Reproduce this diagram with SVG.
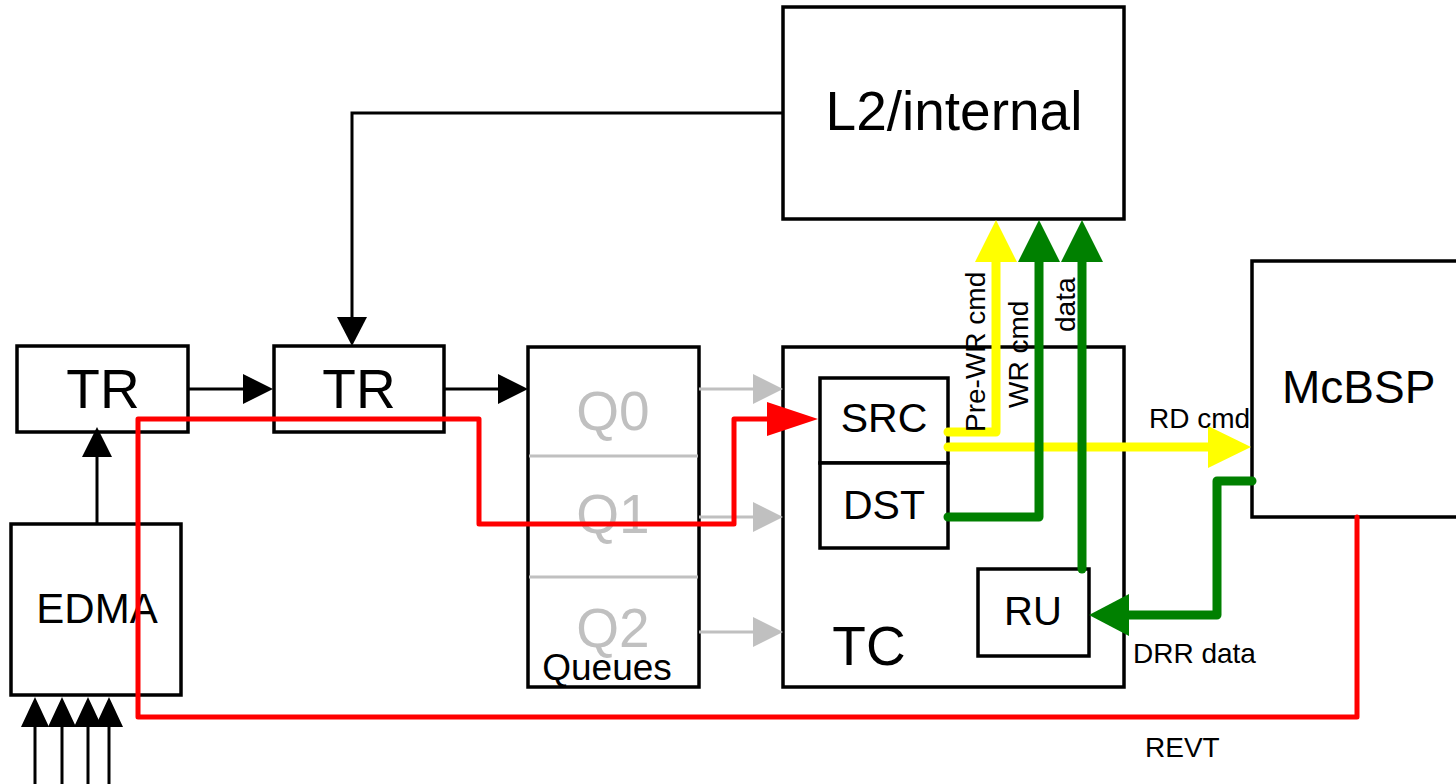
<svg xmlns="http://www.w3.org/2000/svg" width="1456" height="784" viewBox="0 0 1456 784">
<style>
.box{fill:#fff;stroke:#000;stroke-width:3.5}
.t{font-family:"Liberation Sans",Arial,sans-serif;fill:#000}
.big{font-size:55px}
.mid{font-size:41px}
.sm{font-size:28px}
.q{font-size:55px;fill:#c0c0c0;text-anchor:middle}
.blk{fill:none;stroke:#000;stroke-width:3}
.gry{fill:none;stroke:#c0c0c0;stroke-width:3}
.red{fill:none;stroke:#ff0000;stroke-width:5;stroke-linejoin:round;stroke-linecap:round}
.yel{fill:none;stroke:#ffff00;stroke-width:9;stroke-linejoin:round;stroke-linecap:round}
.grn{fill:none;stroke:#008000;stroke-width:9;stroke-linejoin:round;stroke-linecap:round}
</style>
<g id="L2"><rect class="box" x="783" y="7" width="341" height="212"/><text class="t big" x="954" y="130" text-anchor="middle">L2/internal</text></g>
<g id="McBSP"><rect class="box" x="1252" y="261" width="220" height="256"/><text class="t" style="font-size:46px" x="1282" y="403">McBSP</text></g>
<g id="TR1"><rect class="box" x="17" y="346" width="171" height="86"/><text class="t big" x="103" y="408" text-anchor="middle">TR</text></g>
<g id="TR2"><rect class="box" x="274" y="346" width="170" height="86"/><text class="t big" x="359" y="408" text-anchor="middle">TR</text></g>
<g id="EDMA"><rect class="box" x="11" y="524" width="170" height="171"/><text class="t" style="font-size:42px" x="97" y="623" text-anchor="middle">EDMA</text></g>
<g id="Queues"><rect class="box" x="528" y="347" width="171" height="340"/>
<line x1="529" y1="456" x2="698" y2="456" stroke="#c0c0c0" stroke-width="3"/>
<line x1="529" y1="577" x2="698" y2="577" stroke="#c0c0c0" stroke-width="3"/>
<text class="t q" x="613" y="430">Q0</text><text class="t q" x="613" y="533">Q1</text><text class="t q" x="613" y="647">Q2</text>
<text class="t" style="font-size:37px" x="607" y="680" text-anchor="middle">Queues</text></g>
<g id="TC"><rect class="box" x="783" y="347" width="341" height="340"/><text class="t big" x="869" y="665" text-anchor="middle">TC</text></g>
<g id="SRC"><rect class="box" x="820" y="378" width="128" height="85"/><text class="t mid" x="884" y="432" text-anchor="middle">SRC</text></g>
<g id="DST"><rect class="box" x="820" y="463" width="128" height="85"/><text class="t mid" x="884" y="519" text-anchor="middle">DST</text></g>
<g id="RU"><rect class="box" x="978" y="569" width="111" height="87"/><text class="t" style="font-size:40px" x="1033" y="625" text-anchor="middle">RU</text></g>
<g id="connectors">
<line class="blk" x1="97" y1="524" x2="97" y2="455"/><polygon points="97,427 82,457 112,457"/>
<line class="blk" x1="188" y1="389" x2="245" y2="389"/><polygon points="273,389 243,374 243,404"/>
<line class="blk" x1="444" y1="389" x2="500" y2="389"/><polygon points="528,389 498,374 498,404"/>
<polyline class="blk" points="783,113 352,113 352,320"/><polygon points="352,346 337,317 367,317"/>
<line class="blk" x1="35" y1="784" x2="35" y2="725"/><polygon points="35,697 21,727 49,727"/>
<line class="blk" x1="62" y1="784" x2="62" y2="725"/><polygon points="62,697 48,727 76,727"/>
<line class="blk" x1="88" y1="784" x2="88" y2="725"/><polygon points="88,697 74,727 102,727"/>
<line class="blk" x1="109" y1="784" x2="109" y2="725"/><polygon points="109,697 95,727 123,727"/>
<line class="gry" x1="699" y1="389" x2="755" y2="389"/><polygon fill="#c0c0c0" points="783,389 753,374 753,404"/>
<line class="gry" x1="699" y1="517" x2="755" y2="517"/><polygon fill="#c0c0c0" points="783,517 753,502 753,532"/>
<line class="gry" x1="699" y1="632" x2="755" y2="632"/><polygon fill="#c0c0c0" points="783,632 753,617 753,647"/>
<polyline class="red" points="1357,517 1357,717 138,717 138,419 479,419 479,524 734,524 734,419 770,419"/>
<polygon fill="#ff0000" points="818,419 767,402 767,436"/>
<polyline class="yel" points="948,432 996,432 996,260"/><polygon fill="#ffff00" points="996,220 975,262 1017,262"/>
<polyline class="yel" points="948,447 1210,447"/><polygon fill="#ffff00" points="1251,447 1208,426 1208,468"/>
<polyline class="grn" points="948,517 1039,517 1039,260"/><polygon fill="#008000" points="1039,220 1018,262 1060,262"/>
<polyline class="grn" points="1082,569 1082,260"/><polygon fill="#008000" points="1082,220 1061,262 1103,262"/>
<polyline class="grn" points="1252,481 1217,481 1217,615 1127,615"/><polygon fill="#008000" points="1089,615 1129,594 1129,636"/>
<text class="t sm" transform="translate(985,432) rotate(-90)">Pre-WR cmd</text>
<text class="t sm" transform="translate(1028,408) rotate(-90)">WR cmd</text>
<text class="t sm" transform="translate(1075,332) rotate(-90)">data</text>
<text class="t sm" x="1149" y="428">RD cmd</text>
<text class="t sm" x="1133" y="663">DRR data</text>
<text class="t sm" x="1145" y="757">REVT</text>
</g>
</svg>
